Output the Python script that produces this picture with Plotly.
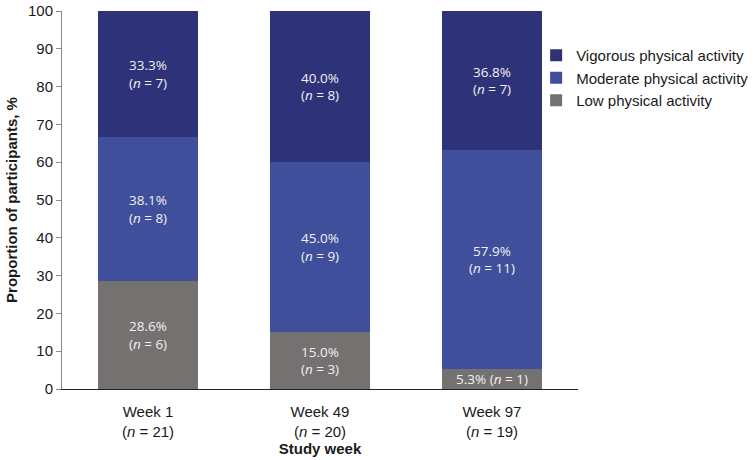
import plotly.graph_objects as go

weeks = ["Week 1<br>(<i>n</i> = 21)", "Week 49<br>(<i>n</i> = 20)", "Week 97<br>(<i>n</i> = 19)"]
series_names = ["Low physical activity", "Moderate physical activity", "Vigorous physical activity"]
low = [28.6, 15.0, 5.3]
moderate = [38.1, 45.0, 57.9]
vigorous = [33.3, 40.0, 36.8]
low_n = [6, 3, 1]
moderate_n = [8, 9, 11]
vigorous_n = [7, 8, 7]
colors = ["#767171", "#3F4F9B", "#2E3278"]

def labels(vals, ns, single_line_below=None):
    out = []
    for v, n in zip(vals, ns):
        if single_line_below is not None and v < single_line_below:
            out.append(f"{v:.1f}% (<i>n</i> = {n})")
        else:
            out.append(f"{v:.1f}%<br>(<i>n</i> = {n})")
    return out

fig = go.Figure()
for name, vals, ns, col in [
    (series_names[0], low, low_n, colors[0]),
    (series_names[1], moderate, moderate_n, colors[1]),
    (series_names[2], vigorous, vigorous_n, colors[2]),
]:
    fig.add_trace(go.Bar(
        x=weeks, y=vals, name=name, marker=dict(color=col, line=dict(width=0)),
        text=labels(vals, ns, single_line_below=10),
        textposition="inside", insidetextanchor="middle", textangle=0,
        constraintext="none",
        textfont=dict(family="Open Sans, Liberation Sans, Arial", size=13.5, color="#F0F0F0"),
        hoverinfo="skip",
    ))

fig.update_layout(
    barmode="stack",
    bargap=0.424,
    width=753, height=460,
    margin=dict(l=62, r=175, t=11, b=71, autoexpand=False),
    plot_bgcolor="white", paper_bgcolor="white",
    font=dict(family="Liberation Sans, Arial", size=15, color="#1a1a1a"),
    uniformtext=dict(mode=False),
    legend=dict(
        traceorder="reversed", xref="container", yref="container",
        x=0.712, y=0.915, xanchor="left", yanchor="top",
        font=dict(family="Liberation Sans, Arial", size=15, color="#1a1a1a"),
        itemwidth=30, tracegroupgap=0,
        bgcolor="rgba(0,0,0,0)",
    ),
    yaxis=dict(
        range=[0, 100], dtick=10, showgrid=False, showline=True, linecolor="#888888",
        linewidth=1, ticks="outside", ticklen=5, tickcolor="#888888",
        title=dict(text="<b>Proportion of participants, %</b>", font=dict(size=15), standoff=6),
        zeroline=False, automargin=False,
    ),
    xaxis=dict(
        showgrid=False, showline=True, linecolor="#222222", linewidth=1.3, ticks="",
        ticklabelstandoff=9,
        title=dict(text="<b>Study week</b>", font=dict(size=15), standoff=0),
        automargin=False,
    ),
)

fig.write_html("out.html")
